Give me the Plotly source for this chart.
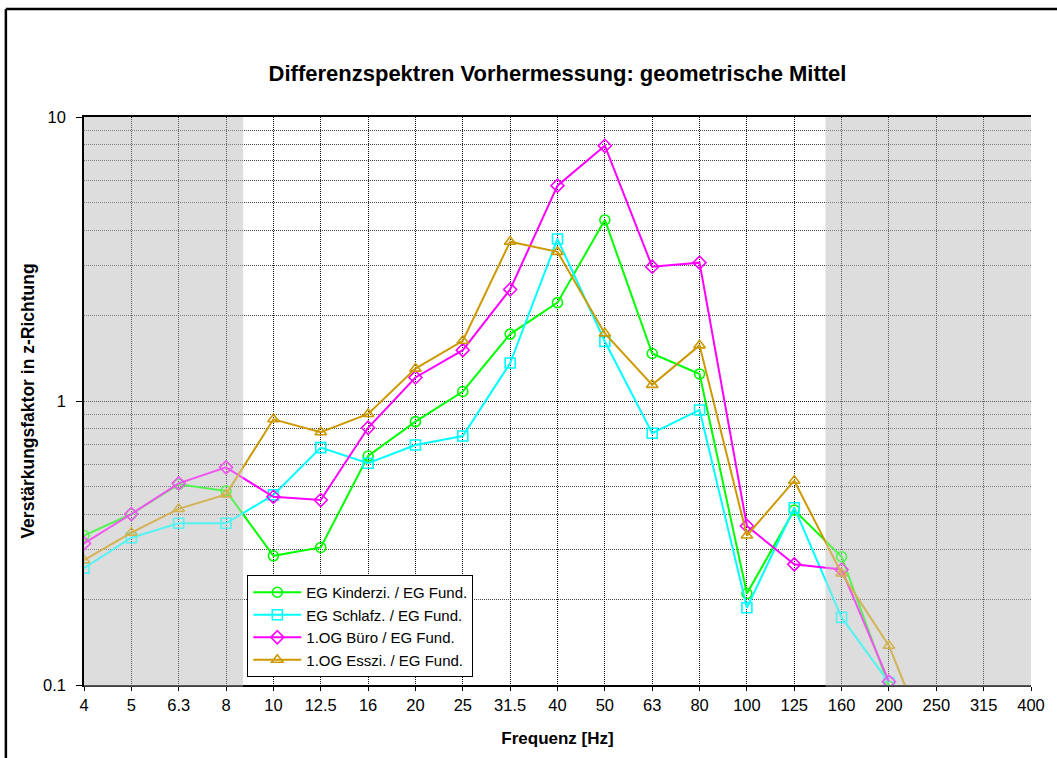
import plotly.graph_objects as go

categories = ["4", "5", "6.3", "8", "10", "12.5", "16", "20", "25", "31.5", "40",
              "50", "63", "80", "100", "125", "160", "200", "250", "315", "400"]

kinderzi = [0.336, 0.40, 0.509, 0.482, 0.285, 0.305, 0.64, 0.846, 1.08, 1.72, 2.22,
            4.34, 1.47, 1.245, 0.21, 0.413, 0.283, 0.099, None, None, None]
schlafz = [0.258, 0.33, 0.371, 0.371, 0.467, 0.685, 0.604, 0.70, 0.753, 1.36, 3.72,
           1.62, 0.77, 0.93, 0.187, 0.421, 0.173, 0.102, None, None, None]
buero = [0.315, 0.40, 0.513, 0.584, 0.46, 0.448, 0.805, 1.21, 1.51, 2.47, 5.73,
         7.92, 2.97, 3.07, 0.363, 0.266, 0.255, 0.1027, None, None, None]
esszi = [0.275, 0.344, 0.417, 0.469, 0.862, 0.776, 0.90, 1.30, 1.63, 3.64, 3.35,
         1.73, 1.14, 1.57, 0.336, 0.524, 0.247, 0.1375, 0.053, None, None]

series = [
    ("EG Kinderzi. / EG Fund.", kinderzi, "#00FF00", "circle-open"),
    ("EG Schlafz. / EG Fund.", schlafz, "#00FFFF", "square-open"),
    ("1.OG Büro / EG Fund.", buero, "#FF00FF", "diamond-open"),
    ("1.OG Esszi. / EG Fund.", esszi, "#CC9900", "triangle-up-open"),
]

# shaded (excluded) frequency ranges, in category-index units
shade_left = (0, 3.36)
shade_right = (15.66, 20)

FONT = "Arial, Liberation Sans, sans-serif"

fig = go.Figure()
for i, (name, vals, color, sym) in enumerate(series):
    fig.add_trace(go.Scatter(
        x=categories, y=vals, name=name, mode="lines+markers",
        line=dict(color=color, width=2),
        marker=dict(symbol=sym, size=10, color=color, line=dict(color=color, width=1.6)),
        legendgroup=f"g{i}", connectgaps=False, cliponaxis=True,
    ))

major = [0.1, 1, 10]
minor_vals = [m * d for d in (0.1, 1) for m in range(2, 10)]

shapes = []
for (a, b) in (shade_left, shade_right):
    shapes.append(dict(type="rect", xref="x", yref="paper", x0=a, x1=b, y0=0, y1=1,
                       fillcolor="#DDDDDD", line=dict(width=0), layer="below"))
    shapes.append(dict(type="rect", xref="x", yref="paper", x0=a, x1=b, y0=-0.003, y1=0.998,
                       fillcolor="rgba(221,221,221,0.38)", line=dict(width=0), layer="above"))
# chart frame (left and top border)
shapes.append(dict(type="line", xref="paper", yref="paper", x0=-0.0825, x1=-0.0825,
                   y0=1.19, y1=-0.2, line=dict(color="black", width=2.5)))
shapes.append(dict(type="line", xref="paper", yref="paper", x0=-0.0825, x1=1.05,
                   y0=1.19, y1=1.19, line=dict(color="black", width=2.5)))

GRID_DASH = "1px,1px"

fig.update_layout(
    width=1057, height=758,
    margin=dict(l=84, r=22, t=117, b=73),
    paper_bgcolor="white", plot_bgcolor="white",
    font=dict(family=FONT, size=16, color="black"),
    title=dict(text="<b>Differenzspektren Vorhermessung: geometrische Mittel</b>",
               x=0.5, xref="paper", xanchor="center",
               y=1 - 73 / 758, yref="container", yanchor="middle",
               font=dict(size=22, family=FONT, color="black")),
    xaxis=dict(
        type="category", range=[0, 20],
        showline=True, linecolor="black", linewidth=1.5, mirror=True,
        ticks="outside", ticklen=4, tickcolor="black",
        showgrid=True, gridcolor="#111111", griddash=GRID_DASH, gridwidth=1,
        title=dict(text="<b>Frequenz [Hz]</b>", standoff=20, font=dict(size=17)),
        tickfont=dict(size=16.5), zeroline=False,
    ),
    yaxis=dict(
        type="log", range=[-1, 1],
        tickvals=major, ticktext=["0.1", "1", "10"],
        showline=True, linecolor="black", linewidth=1.5,
        ticks="outside", ticklen=6, tickcolor="black", ticklabelstandoff=7,
        showgrid=True, gridcolor="#111111", griddash=GRID_DASH, gridwidth=1,
        minor=dict(tickvals=minor_vals, showgrid=True, gridcolor="#444444",
                   griddash=GRID_DASH, gridwidth=1, ticks=""),
        title=dict(text="<b>Verstärkungsfaktor in z-Richtung</b>", standoff=4, font=dict(size=17.5)),
        tickfont=dict(size=16.5), zeroline=False,
    ),
    legend=dict(
        x=(248 - 84) / 951, y=(685 - 677) / 568, xanchor="left", yanchor="bottom",
        bgcolor="white", bordercolor="black", borderwidth=1,
        font=dict(size=15, family=FONT), tracegroupgap=0, itemwidth=48,
    ),
    shapes=shapes,
    showlegend=True,
)

fig.write_html("out.html")
